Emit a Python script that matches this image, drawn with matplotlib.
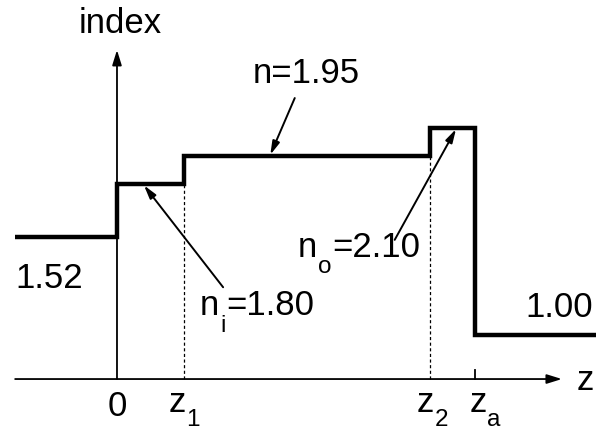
import matplotlib.pyplot as plt
import numpy as np

plt.rcParams['font.family'] = ['Liberation Sans', 'DejaVu Sans']

# layer boundaries along z (z1 taken as the unit length) and index in each layer
z_edges = [-1.52, 0.0, 1.0, 4.67, 5.34, 7.15]
n_levels = [1.52, 1.80, 1.95, 2.10, 1.00]
tick_pos = [0.0, 1.0, 4.67, 5.34]
tick_main = ['0', 'z', 'z', 'z']
tick_sub = ['', '1', '2', 'a']

W, H = 598, 433
fig = plt.figure(figsize=(W / 100, H / 100), dpi=100)
ax = fig.add_axes([0, 0, 1, 1])
ax.set_xlim(-1.746, 7.179)
ax.set_ylim(0.477, 2.780)
ax.axis('off')

y0 = 0.764      # where the z axis sits
fs = 25
rend = fig.canvas.get_renderer()

def ptext(x, y, s, size=fs, **kw):
    # text at pixel position measured from the top-left, y is the baseline
    return fig.text(x / W, 1 - y / H, s, fontsize=size, va='baseline', **kw)

def sub_label(x, y, main, sub, rest='', drop=17, gap=1):
    # letter with a low subscript, then the rest of the label
    t = ptext(x, y, main)
    xs = t.get_window_extent(rend).x1 + gap
    s = ptext(xs, y + drop, sub, size=fs * 0.7)
    if rest:
        ptext(s.get_window_extent(rend).x1 + 1, y, rest)

# index profile
ax.stairs(n_levels, z_edges, baseline=None, color='black', lw=3.2)

# axes with arrow heads
axis_arrow = dict(arrowstyle='-|>,head_length=0.9,head_width=0.28', lw=1.3,
                  color='black', shrinkA=0, shrinkB=0)
ax.annotate('', xy=(6.64, y0), xytext=(z_edges[0], y0), arrowprops=axis_arrow)
ax.annotate('', xy=(0.0, 2.514), xytext=(0.0, y0), arrowprops=axis_arrow)

# dotted guides at z1, z2 and a tick at za
ax.plot([tick_pos[1]] * 2, [y0, n_levels[1]], color='black', lw=0.9, ls=(0, (2.5, 2)))
ax.plot([tick_pos[2]] * 2, [y0, n_levels[2]], color='black', lw=0.9, ls=(0, (2.5, 2)))
ax.plot([tick_pos[3]] * 2, [y0, y0 + 0.05], color='black', lw=1.3)

# tick labels under the z axis
label_dx = [0, -15, -13, -5]
for pos, main, sub, dx in zip(tick_pos, tick_main, tick_sub, label_dx):
    px, _ = ax.transData.transform((pos, y0))
    if sub:
        sub_label(px + dx, 412, main, sub, drop=14, gap=0)
    else:
        ptext(px, 416, main, ha='center')

ptext(120, 33, 'index', ha='center')
ptext(577, 390, 'z')
ptext(15, 288, '1.52')
ptext(593, 317, '1.00', ha='right')
ptext(253, 83, 'n=1.95')
sub_label(200, 315, 'n', 'i', '=1.80')
sub_label(298, 257, 'n', 'o', '=2.10', drop=16)

# pointers from the labels to their layers
ptr = dict(arrowstyle='-|>,head_length=0.8,head_width=0.22', lw=1.4,
           color='black', shrinkA=0, shrinkB=1)
ax.annotate('', xy=(2.28, n_levels[2]), xytext=(25, 58),
            textcoords='offset pixels', arrowprops=ptr)
ax.annotate('', xy=(0.39, n_levels[1]), xytext=(80, -103),
            textcoords='offset pixels', arrowprops=ptr)
ax.annotate('', xy=(5.07, n_levels[3]), xytext=(-62, -112),
            textcoords='offset pixels', arrowprops=ptr)

fig.savefig('out.png', dpi=100)
